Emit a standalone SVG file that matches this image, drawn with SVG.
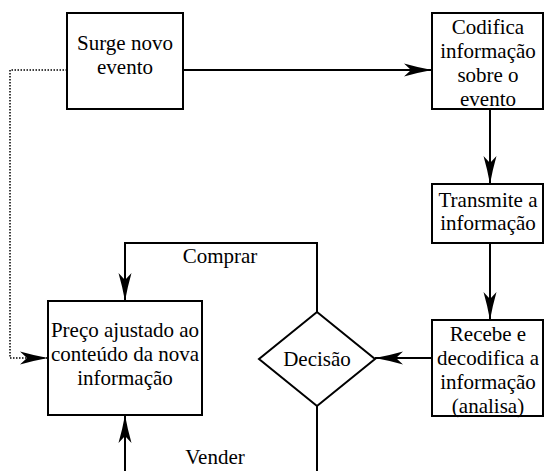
<svg xmlns="http://www.w3.org/2000/svg" width="544" height="471" viewBox="0 0 544 471">
<style>
.box{fill:#fff;stroke:#000;stroke-width:2}
.t{font-family:'Liberation Serif',serif;font-size:21px;fill:#000;text-anchor:middle}
.ln{fill:none;stroke:#000;stroke-width:2}
.dot{fill:none;stroke:#000;stroke-width:1.5;stroke-dasharray:1.5,1.5}
</style>
<defs>
<marker id="ah" markerUnits="userSpaceOnUse" viewBox="-30 -8 31 16" refX="0" refY="0" markerWidth="31" markerHeight="16" orient="auto">
<path d="M0,0 Q-14,-2.5 -28,-6.5 L-21,0 L-28,6.5 Q-14,2.5 0,0 Z" fill="#000"/>
</marker>
</defs>
<g id="connectors">
<line class="ln" x1="183" y1="70" x2="432" y2="70" marker-end="url(#ah)"/>
<line class="ln" x1="490" y1="109" x2="490" y2="184" marker-end="url(#ah)"/>
<line class="ln" x1="490" y1="243" x2="490" y2="320" marker-end="url(#ah)"/>
<line class="ln" x1="432" y1="358" x2="375" y2="358" marker-end="url(#ah)"/>
<path class="ln" d="M317,312 V243 H125 V301" marker-end="url(#ah)"/>
<path class="ln" d="M317,406 V490 H125 V415" marker-end="url(#ah)"/>
<path class="dot" d="M67,70 H10 V358 H48" marker-end="url(#ah)"/>
<text class="t" x="220" y="263">Comprar</text>
<text class="t" x="215" y="464">Vender</text>
</g>
<g id="surge">
<rect class="box" x="67" y="13" width="116" height="96"/>
<text class="t" x="125" y="50">Surge novo</text>
<text class="t" x="125" y="74">evento</text>
</g>
<g id="codifica">
<rect class="box" x="432" y="13" width="111" height="96"/>
<text class="t" x="488" y="34">Codifica</text>
<text class="t" x="488" y="58">informação</text>
<text class="t" x="488" y="82">sobre o</text>
<text class="t" x="488" y="106">evento</text>
</g>
<g id="transmite">
<rect class="box" x="432" y="184" width="111" height="59"/>
<text class="t" x="488" y="207">Transmite a</text>
<text class="t" x="488" y="230">informação</text>
</g>
<g id="recebe">
<rect class="box" x="432" y="320" width="111" height="96"/>
<text class="t" x="488" y="341">Recebe e</text>
<text class="t" x="488" y="365">decodifica a</text>
<text class="t" x="488" y="389">informação</text>
<text class="t" x="488" y="413">(analisa)</text>
</g>
<g id="decisao">
<polygon class="box" points="317,312 375,359 317,406 259,359"/>
<text class="t" x="317" y="366">Decisão</text>
</g>
<g id="preco">
<rect class="box" x="48" y="301" width="154" height="114"/>
<text class="t" x="125" y="337">Preço ajustado ao</text>
<text class="t" x="125" y="361">conteúdo da nova</text>
<text class="t" x="125" y="385">informação</text>
</g>
</svg>
